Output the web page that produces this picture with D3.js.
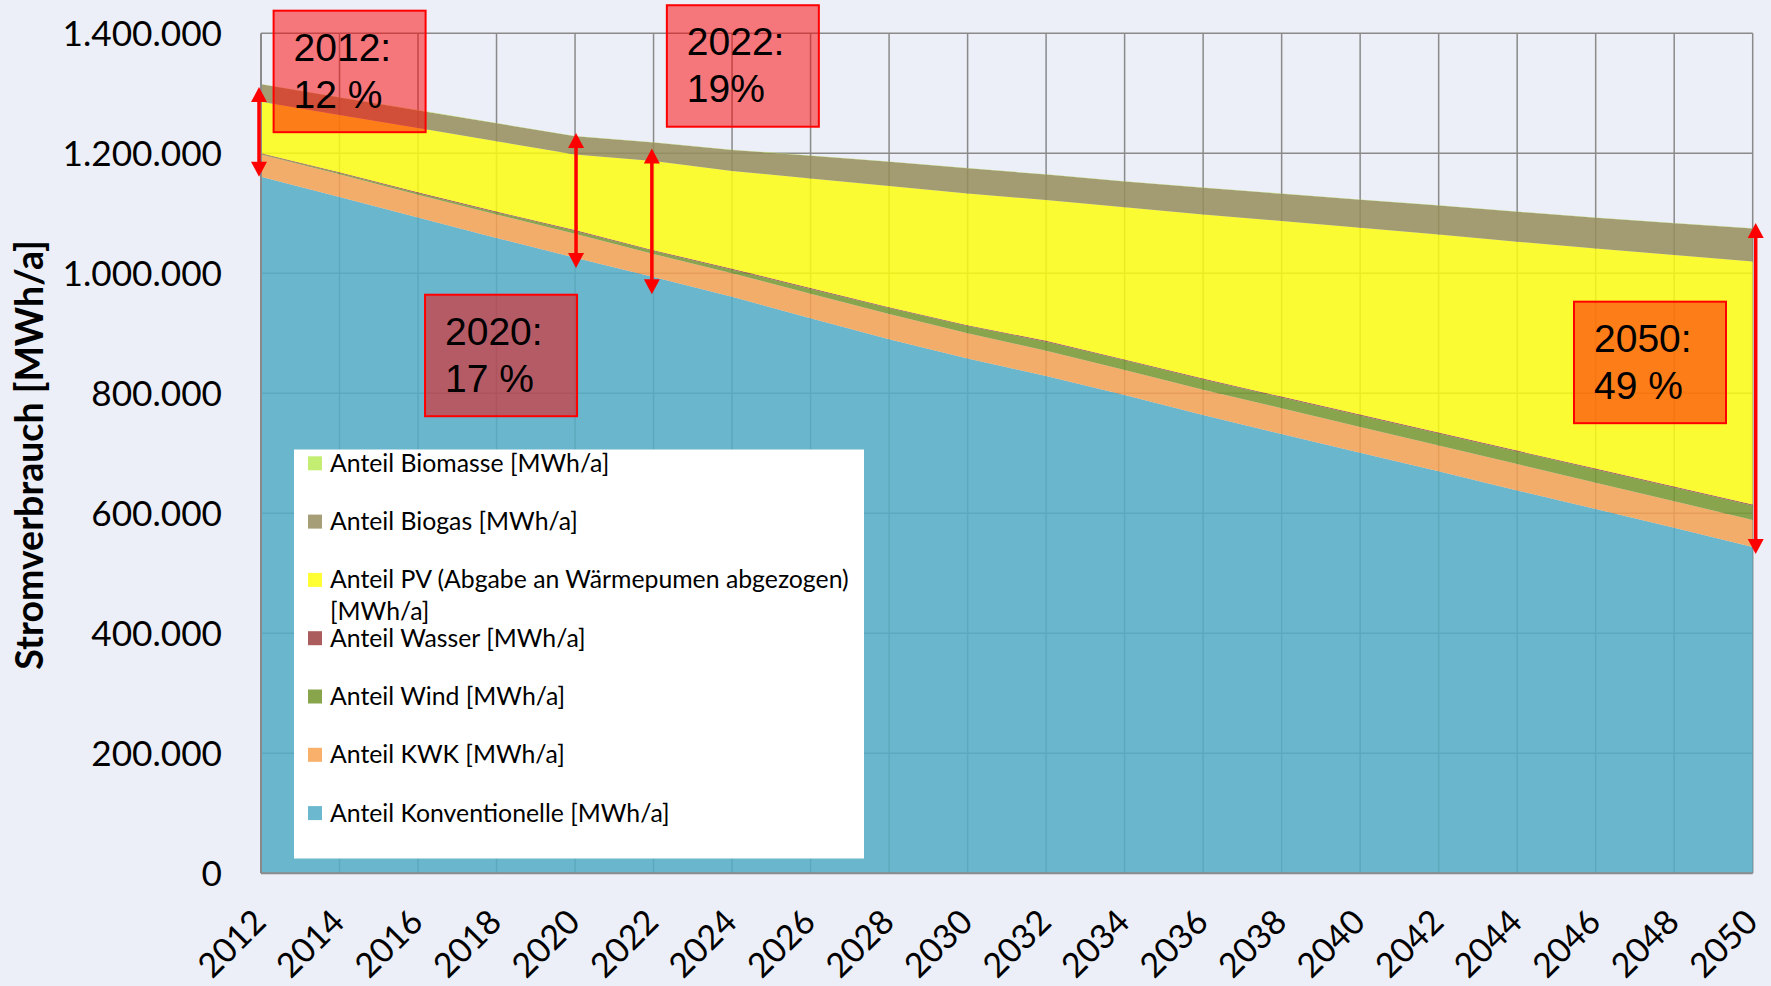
<!DOCTYPE html>
<html><head><meta charset="utf-8">
<script src="https://cdn.jsdelivr.net/npm/d3@7"></script>
<style>body{margin:0;background:#eceff7;} svg{display:block}</style>
</head><body>
<svg id="c" width="1771" height="986"></svg>
<script>
// ---------- data (MWh/a) ----------
const years = [2012,2014,2016,2018,2020,2022,2024,2026,2028,2030,2032,2034,2036,2038,2040,2042,2044,2046,2048,2050];
const konventionelle = [1161000,1127000,1093000,1059000,1026000,994000,961000,925000,890000,858000,829000,797000,764000,732000,701000,670000,638000,607000,576000,544000];
const kwk      = [37000,38000,38000,39000,40000,38000,39000,41000,42000,42000,42000,42000,42000,43000,43000,43000,44000,44000,44000,45000];
const wind     = [1000,2000,2500,3500,4500,5000,6000,8000,10000,12000,15000,16000,17000,18000,19000,20000,21000,22000,23000,24000];
const wasser   = [1000,1500,1500,1500,1500,1500,1500,1500,1500,1500,1500,1500,1500,1500,1500,1500,1500,1500,1500,1500];
const pv       = [86000,95500,107000,117000,126000,148500,163000,182500,202000,219500,234500,253500,273500,292500,311500,330000,348000,367000,386000,405000];
const biogas   = [29000,29000,29500,30000,30500,31000,35000,38000,40500,42000,42500,43000,44500,45500,46500,48500,50000,51000,53000,55000];
const biomasse = [500,500,500,500,500,500,500,500,500,500,500,500,500,500,500,500,500,500,500,500];

const seriesLabels = ["Anteil Konventionelle [MWh/a]","Anteil KWK [MWh/a]","Anteil Wind [MWh/a]","Anteil Wasser [MWh/a]","Anteil PV (Abgabe an Wärmepumen abgezogen) [MWh/a]","Anteil Biogas [MWh/a]","Anteil Biomasse [MWh/a]"];
const yTicks = [0,200000,400000,600000,800000,1000000,1200000,1400000];
const xTicks = years;

const annoYears  = [2012,2020,2022,2050];
const annoTitles = ["2012:","2020:","2022:","2050:"];
const annoPcts   = ["12 %","17 %","19%","49 %"];
const arrowFrom  = [1310500,1234000,1208000,1084000];
const arrowTo    = [1161000,1009000,965000,532000];

// ---------- styles ----------
const fillColors   = ["#53adc6","#f5a151","#779830","#9e403e","#fdfd10","#978d5b","#bbea56"];
const swatchColors = ["#6bb8cf","#f8b06a","#88a54b","#ab5c5c","#ffff33","#a69e76","#c4ee72"];

const svg = d3.select("#c");
const W = 1771, H = 986;
svg.append("rect").attr("width",W).attr("height",H).attr("fill","#eceff7");

const x = d3.scaleLinear().domain([2012,2050]).range([261,1752.7]);
const y = d3.scaleLinear().domain([0,1400000]).range([873.3,33.3]);

// gridlines
const grid = svg.append("g").attr("stroke","#8a8a8a").attr("stroke-width",1.5);
grid.selectAll(".h").data(yTicks.slice(1)).join("line")
  .attr("x1",x(2012)).attr("x2",x(2050)).attr("y1",d=>y(d)).attr("y2",d=>y(d));
grid.selectAll(".v").data(xTicks.slice(1)).join("line")
  .attr("y1",y(0)).attr("y2",y(1400000)).attr("x1",d=>x(d)).attr("x2",d=>x(d));

// stacked areas
const keys = ["konv","kwk","wind","wasser","pv","biogas","biomasse"];
const src = [konventionelle,kwk,wind,wasser,pv,biogas,biomasse];
const table = years.map((yr,i)=>{const o={year:yr}; keys.forEach((k,j)=>o[k]=src[j][i]); return o;});
const stacked = d3.stack().keys(keys)(table);
const area = d3.area().x(d=>x(d.data.year)).y0(d=>y(d[0])).y1(d=>y(d[1]));
svg.append("g").selectAll("path").data(stacked).join("path")
  .attr("d",area).attr("fill",(d,i)=>fillColors[i]).attr("fill-opacity",0.85);

// axis lines
svg.append("line").attr("x1",x(2012)).attr("x2",x(2012)).attr("y1",y(1400000)).attr("y2",y(0)).attr("stroke","#8a8a8a").attr("stroke-width",2);
svg.append("line").attr("x1",x(2012)).attr("x2",x(2050)).attr("y1",y(0)).attr("y2",y(0)).attr("stroke","#8a8a8a").attr("stroke-width",2);

// y tick labels
const fmt = d3.formatLocale({decimal:",",thousands:".",grouping:[3],currency:["","€"]}).format(",d");
svg.append("g").selectAll("text").data(yTicks).join("text")
  .attr("x",222).attr("y",d=>y(d)).attr("dy","0.36em").attr("text-anchor","end")
  .attr("font-family","Lato").attr("font-size",35.2).attr("fill","#000").text(d=>fmt(d));

// x tick labels
svg.append("g").selectAll("text").data(xTicks).join("text")
  .attr("transform",d=>`translate(${x(d)+7},924) rotate(-45)`).attr("text-anchor","end")
  .attr("font-family","Lato").attr("font-size",34).attr("fill","#000").text(d=>d);

// y title
svg.append("text").attr("transform","translate(43,455) rotate(-90)").attr("text-anchor","middle")
  .attr("font-family","Lato").attr("font-weight","bold").attr("font-size",37.5).attr("fill","#000")
  .text("Stromverbrauch [MWh/a]");

// legend
const lg = svg.append("g");
lg.append("rect").attr("x",294).attr("y",449.5).attr("width",570).attr("height",409).attr("fill","#fff");
const order = d3.range(keys.length).reverse();
order.forEach((si,row)=>{
  const cy = 463.3 + row*58.3;
  lg.append("rect").attr("x",308).attr("y",cy-7).attr("width",14).attr("height",14).attr("fill",swatchColors[si]);
  const t = lg.append("text").attr("x",330).attr("y",cy+8.5).attr("font-family","Lato").attr("font-size",24.8).attr("fill","#000");
  const lbl = seriesLabels[si];
  if (si===4) {
    t.append("tspan").attr("x",330).text("Anteil PV (Abgabe an Wärmepumen abgezogen)");
    t.append("tspan").attr("x",330).attr("dy",31.7).text("[MWh/a]");
  } else t.text(lbl);
});

// annotation boxes
const boxPos = [{dx:12.6, top:1437700},{dx:-150, top:964300},{dx:13.3, top:1446800},{dx:-178.7, top:952700}];
const bw = 152, bh = 121.5;
annoYears.forEach((yr,i)=>{
  const bx = x(yr)+boxPos[i].dx, by = y(boxPos[i].top);
  svg.append("rect").attr("x",bx).attr("y",by).attr("width",bw).attr("height",bh)
    .attr("fill","rgba(255,0,0,0.5)").attr("stroke","#ff0000").attr("stroke-width",2);
  const t = svg.append("text").attr("font-family","Liberation Sans, Arial").attr("font-size",39).attr("fill","#000");
  t.append("tspan").attr("x",bx+20).attr("y",by+50).text(annoTitles[i]);
  t.append("tspan").attr("x",bx+20).attr("y",by+97).text(annoPcts[i]);
});

// arrows
const arrowDx = [-2,1,-1.7,3];
const hl = 15, hw = 8;
annoYears.forEach((yr,i)=>{
  const ax = x(yr)+arrowDx[i], y1 = y(arrowFrom[i]), y2 = y(arrowTo[i]);
  svg.append("line").attr("x1",ax).attr("x2",ax).attr("y1",y1+hl-2).attr("y2",y2-hl+2)
    .attr("stroke","#ff0000").attr("stroke-width",3.5);
  svg.append("path").attr("d",`M${ax},${y1} L${ax+hw},${y1+hl} L${ax-hw},${y1+hl} Z`).attr("fill","#ff0000");
  svg.append("path").attr("d",`M${ax},${y2} L${ax+hw},${y2-hl} L${ax-hw},${y2-hl} Z`).attr("fill","#ff0000");
});
</script>
</body></html>
